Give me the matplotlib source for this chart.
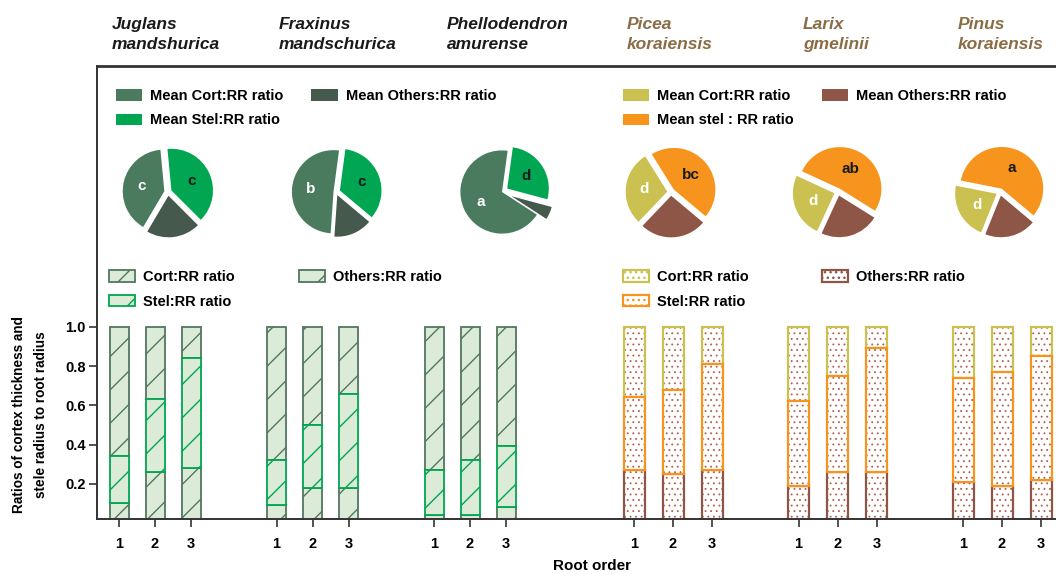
import matplotlib
matplotlib.use("Agg")
import matplotlib.pyplot as plt
from matplotlib.patches import Patch
import numpy as np

plt.rcParams['font.family'] = ['Liberation Sans', 'DejaVu Sans']
plt.rcParams['font.weight'] = 'bold'
plt.rcParams['hatch.linewidth'] = 1.0

# ---------------- data ----------------
species = ["Juglans\nmandshurica", "Fraxinus\nmandschurica", "Phellodendron\namurense",
           "Picea\nkoraiensis", "Larix\ngmelinii", "Pinus\nkoraiensis"]
is_conifer = [False, False, False, True, True, True]
root_orders = ["1", "2", "3"]

others_ratio = [[0.10, 0.26, 0.28], [0.09, 0.18, 0.18], [0.04, 0.04, 0.08],
                [0.27, 0.25, 0.27], [0.19, 0.26, 0.26], [0.21, 0.19, 0.22]]
stel_ratio = [[0.24, 0.37, 0.56], [0.23, 0.32, 0.48], [0.23, 0.28, 0.31],
              [0.37, 0.43, 0.54], [0.43, 0.49, 0.63], [0.53, 0.58, 0.63]]
cort_ratio = [[0.66, 0.37, 0.16], [0.68, 0.50, 0.34], [0.73, 0.68, 0.61],
              [0.36, 0.32, 0.19], [0.38, 0.25, 0.11], [0.26, 0.23, 0.15]]

pie_stel = [0.39, 0.34, 0.27, 0.45, 0.52, 0.58]
pie_cort = [0.40, 0.51, 0.68, 0.29, 0.25, 0.22]
pie_others = [0.21, 0.15, 0.05, 0.26, 0.23, 0.20]
stel_letters = ["c", "c", "d", "bc", "ab", "a"]
cort_letters = ["c", "b", "a", "d", "d", "d"]

y_ticks = [0.2, 0.4, 0.6, 0.8, 1.0]

# ---------------- style ----------------
W, H = 1056, 574
fig = plt.figure(figsize=(W / 100, H / 100), dpi=100)

def fx(x):
    return x / W

def fy(y):
    return 1 - y / H

bl_cort = "#4a7b5e"
bl_others = "#45594d"
bl_stel = "#00a651"
bl_fill = "#dcebd7"
bl_edge = "#52775f"
cf_cort = "#cbc150"
cf_others = "#8d5646"
cf_stel = "#f7941d"
cf_dot = "#b0604a"
title_bl = "#1a1a1a"
title_cf = "#8b6d45"
axis_col = "#333333"

# main bar axes (pixel-like x coordinates)
ax_left, ax_right, ax_top, ax_bottom = 97, 1056, 66, 519
ax = fig.add_axes([fx(ax_left), fy(ax_bottom), fx(ax_right - ax_left), (ax_bottom - ax_top) / H])
ax.set_xlim(ax_left, ax_right)
y0 = 0.02
ax.set_ylim(y0, y0 + (ax_bottom - ax_top) / 196.0)

group_centers = [155 + 157.5 * g if g < 3 else 673 + 164.5 * (g - 3) for g in range(6)]
steps = [36 if not c else 39 for c in is_conifer]
widths = [19 if not c else 21 for c in is_conifer]

xticks, xlabels = [], []
for g in range(6):
    xs = np.array([group_centers[g] + (i - 1) * steps[g] for i in range(3)])
    oth = np.array(others_ratio[g])
    ste = np.array(stel_ratio[g])
    cor = np.array(cort_ratio[g])
    w = widths[g]
    if not is_conifer[g]:
        ax.bar(xs, oth, w, bottom=0, color=bl_fill, edgecolor=bl_edge, hatch="/", lw=1.3, zorder=2)
        ax.bar(xs, cor, w, bottom=oth + ste, color=bl_fill, edgecolor=bl_edge, hatch="/", lw=1.3, zorder=2)
        ax.bar(xs, ste, w, bottom=oth, color=bl_fill, edgecolor=bl_stel, hatch="/", lw=1.3, zorder=3)
    else:
        for vals, bot, col, z in [(oth, 0, cf_others, 2), (cor, oth + ste, cf_cort, 2), (ste, oth, cf_stel, 3)]:
            with plt.rc_context({'hatch.linewidth': 0.6}):
                ax.bar(xs, vals, w, bottom=bot, color="white", edgecolor=cf_dot, hatch="...", lw=0, zorder=z)
            ax.bar(xs, vals, w, bottom=bot, fill=False, edgecolor=col, lw=1.6, zorder=z + 0.5)
    xticks += list(xs)
    xlabels += root_orders

ax.set_xticks(xticks)
ax.set_xticklabels(xlabels, fontsize=10.5, fontweight="bold")
ax.set_yticks(y_ticks)
ax.set_yticklabels([f"{v:.1f}" for v in y_ticks], fontsize=10.5, fontweight="bold")
ax.tick_params(axis="both", length=6, width=1.2, color=axis_col, pad=2)
ax.tick_params(axis="x", pad=7)
ax.spines["right"].set_visible(False)
for s in ["left", "bottom", "top"]:
    ax.spines[s].set_color(axis_col)
ax.spines["left"].set_linewidth(1.4)
ax.spines["bottom"].set_linewidth(1.4)
ax.spines["top"].set_linewidth(2.0)

fig.text(fx(592), fy(566), "Root order", ha="center", va="center", fontsize=11, fontweight="bold")
fig.text(fx(30), fy(415), "Ratios of cortex thickness and\nstele radius to root radius",
         rotation=90, ha="center", va="center", fontsize=9.8, fontweight="bold", linespacing=1.8)

# titles
title_x = [112, 279, 447, 627, 803, 958]
for g in range(6):
    fig.text(fx(title_x[g]), fy(17), species[g], ha="left", va="top", fontsize=12.5,
             fontweight="bold", fontstyle="italic", linespacing=1.45,
             color=title_cf if is_conifer[g] else title_bl)

# pies
pie_cx = [168, 336, 502, 671, 838, 1000]
pie_cy = 192
pie_size = 104
start_angles = [-45, -40, -15, -40, -32, -40]
explodes = [[0.09, 0.09, 0.09], [0.1, 0.06, 0.08], [0.15, 0.0, 0.25],
            [0.09, 0.09, 0.09], [0.09, 0.09, 0.09], [0.09, 0.09, 0.09]]
for g in range(6):
    pax = fig.add_axes([fx(pie_cx[g] - pie_size / 2), fy(pie_cy + pie_size / 2), pie_size / W, pie_size / H])
    cols = [cf_stel, cf_cort, cf_others] if is_conifer[g] else [bl_stel, bl_cort, bl_others]
    wedges, texts = pax.pie([pie_stel[g], pie_cort[g], pie_others[g]], colors=cols,
                            startangle=start_angles[g], counterclock=True,
                            explode=explodes[g], labels=[stel_letters[g], cort_letters[g], ""],
                            labeldistance=0.55, wedgeprops=dict(linewidth=0),
                            textprops=dict(fontsize=11, fontweight="bold"))
    texts[0].set_color("#1a1a1a")
    texts[1].set_color("white")
    for t in texts[:2]:
        t.set_ha("center")
        t.set_va("center")
    pax.set_xlim(-1.25, 1.25)
    pax.set_ylim(-1.25, 1.25)
    pax.set_aspect("equal")
    pax.axis("off")

# legends
leg_kw = dict(loc="upper left", ncol=2, frameon=False, borderpad=0, borderaxespad=0,
              handlelength=1.8, handleheight=0.85, handletextpad=0.55, labelspacing=0.72,
              prop=dict(size=10.5, weight="bold"))

h1 = [Patch(facecolor=bl_cort, label="Mean Cort:RR ratio"),
      Patch(facecolor=bl_stel, label="Mean Stel:RR ratio"),
      Patch(facecolor=bl_others, label="Mean Others:RR ratio")]
fig.legend(handles=h1, bbox_to_anchor=(fx(116), fy(89)), columnspacing=1.9, **leg_kw)

h2 = [Patch(facecolor=cf_cort, label="Mean Cort:RR ratio"),
      Patch(facecolor=cf_stel, label="Mean stel : RR ratio"),
      Patch(facecolor=cf_others, label="Mean Others:RR ratio")]
fig.legend(handles=h2, bbox_to_anchor=(fx(623), fy(89)), columnspacing=1.9, **leg_kw)

h3 = [Patch(facecolor=bl_fill, edgecolor=bl_edge, hatch="/", lw=1.3, label="Cort:RR ratio"),
      Patch(facecolor=bl_fill, edgecolor=bl_stel, hatch="/", lw=1.3, label="Stel:RR ratio"),
      Patch(facecolor=bl_fill, edgecolor=bl_edge, hatch="/", lw=1.3, label="Others:RR ratio")]
fig.legend(handles=h3, bbox_to_anchor=(fx(109), fy(270)), columnspacing=4.4, **leg_kw)

with plt.rc_context({'hatch.linewidth': 0.6}):
    h4 = [Patch(facecolor="white", edgecolor=cf_cort, hatch="...", lw=1.6, label="Cort:RR ratio"),
          Patch(facecolor="white", edgecolor=cf_stel, hatch="...", lw=1.6, label="Stel:RR ratio"),
          Patch(facecolor="white", edgecolor=cf_others, hatch="...", lw=1.6, label="Others:RR ratio")]
fig.legend(handles=h4, bbox_to_anchor=(fx(623), fy(270)), columnspacing=5.0, **leg_kw)

fig.savefig("out.png", dpi=100)
